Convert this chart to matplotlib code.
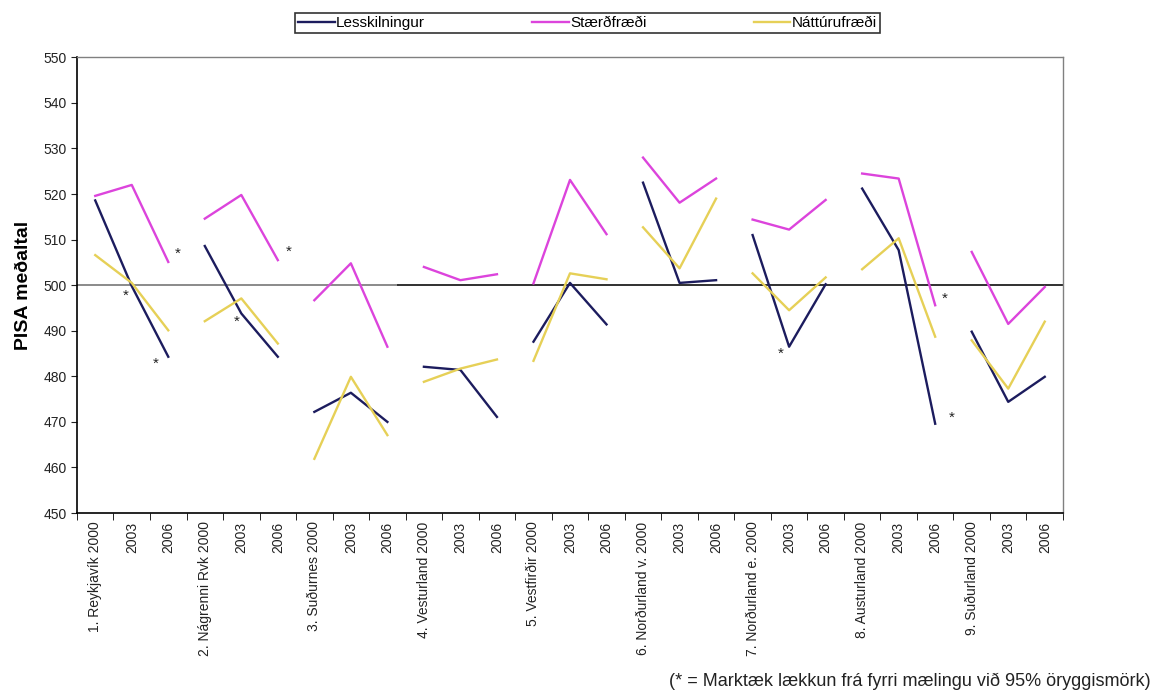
import numpy as np
import matplotlib
matplotlib.use("Agg")
import matplotlib.pyplot as plt

plt.rcParams['font.family'] = ['Liberation Sans', 'DejaVu Sans']

regions = ["1. Reykjavík", "2. Nágrenni Rvk", "3. Suðurnes", "4. Vesturland",
           "5. Vestfirðir", "6. Norðurland v.", "7. Norðurland e.",
           "8. Austurland", "9. Suðurland"]
years = ["2000", "2003", "2006"]

lesskilningur = [518.6, 499.8, 484.3,
                 508.6, 493.8, 484.3,
                 472.2, 476.4, 470.0,
                 482.1, 481.4, 471.1,
                 487.6, 500.5, 491.4,
                 522.5, 500.5, 501.1,
                 511.0, 486.5, 500.2,
                 521.2, 507.7, 469.6,
                 489.8, 474.4, 479.9]
staerdfraedi = [519.6, 522.0, 505.1,
                514.6, 519.8, 505.5,
                496.7, 504.8, 486.5,
                504.0, 501.1, 502.4,
                500.4, 523.1, 511.2,
                528.0, 518.1, 523.4,
                514.4, 512.2, 518.7,
                524.5, 523.4, 495.6,
                507.3, 491.5, 499.6]
natturufraedi = [506.6, 500.5, 490.1,
                 492.1, 497.1, 487.2,
                 461.9, 479.9, 467.1,
                 478.8, 481.7, 483.7,
                 483.4, 502.6, 501.3,
                 512.7, 503.7, 519.0,
                 502.6, 494.5, 501.7,
                 503.5, 510.3, 488.7,
                 487.9, 477.3, 492.0]

series_names = ["Lesskilningur", "Stærðfræði", "Náttúrufræði"]
series_colors = ["#1c1c5e", "#dc44dc", "#e6d057"]

# significant drops: (category index, series index)
significant = [(1, 0), (2, 0), (2, 1), (4, 0), (5, 1), (19, 0), (23, 1), (23, 0)]
sig_offsets = [(-4, -7), (-9, -5), (7, 6), (-3, -6), (8, 6), (-6, -5), (7, 5), (12, 4)]

labels = []
for r in regions:
    labels += [r + " " + years[0], years[1], years[2]]

fig = plt.figure(figsize=(11.61, 6.99), dpi=100)
ax = fig.add_axes([0.0663, 0.266, 0.8493, 0.652])

data = [lesskilningur, staerdfraedi, natturufraedi]
x = np.arange(len(labels))

# reference line at 500
ax.plot([-0.5, 8.3], [500, 500], color="#8a8a8a", lw=1.4, zorder=1)
ax.plot([8.3, 26.5], [500, 500], color="#303030", lw=1.4, zorder=1)

handles = []
for vals, name, col in zip(data, series_names, series_colors):
    vals = np.array(vals)
    h = None
    for g in range(len(regions)):
        sl = slice(3 * g, 3 * g + 3)
        h, = ax.plot(x[sl], vals[sl], color=col, lw=1.7, label=name, zorder=3)
    handles.append(h)

for (idx, s), (dx, dy) in zip(significant, sig_offsets):
    ax.annotate("*", (x[idx], data[s][idx]), xytext=(dx, dy),
                textcoords="offset points", ha="center", va="center",
                fontsize=11, color="#222222")

ax.set_xlim(-0.5, len(labels) - 0.5)
ax.set_ylim(450, 550)
ax.set_yticks(np.arange(450, 551, 10))
ax.tick_params(axis="y", direction="out", length=4, labelsize=10, colors="#222222")
ax.set_xticks(x)
ax.set_xticklabels(labels, rotation=90, fontsize=10, color="#222222")
ax.tick_params(axis="x", which="major", length=0, pad=6)
ax.set_xticks(np.arange(-0.5, len(labels), 1), minor=True)
ax.tick_params(axis="x", which="minor", direction="out", length=5)

for sp in ["left", "bottom"]:
    ax.spines[sp].set_color("black")
    ax.spines[sp].set_linewidth(1.2)
for sp in ["top", "right"]:
    ax.spines[sp].set_color("#808080")
    ax.spines[sp].set_linewidth(1.0)

ax.set_ylabel("PISA meðaltal", fontsize=14, fontweight="bold", labelpad=8)

leg = fig.legend(handles, series_names, loc="center", bbox_to_anchor=(0.506, 0.967),
                 ncol=3, frameon=True, fancybox=False, edgecolor="black",
                 fontsize=11, handlelength=2.4, handletextpad=0.1,
                 columnspacing=7.0, borderpad=0.2)
leg.get_frame().set_linewidth(1.2)

fig.text(0.991, 0.025, "(* = Marktæk lækkun frá fyrri mælingu við 95% öryggismörk)",
         ha="right", va="center", fontsize=13, color="#222222")

fig.savefig("out.png", dpi=100)
